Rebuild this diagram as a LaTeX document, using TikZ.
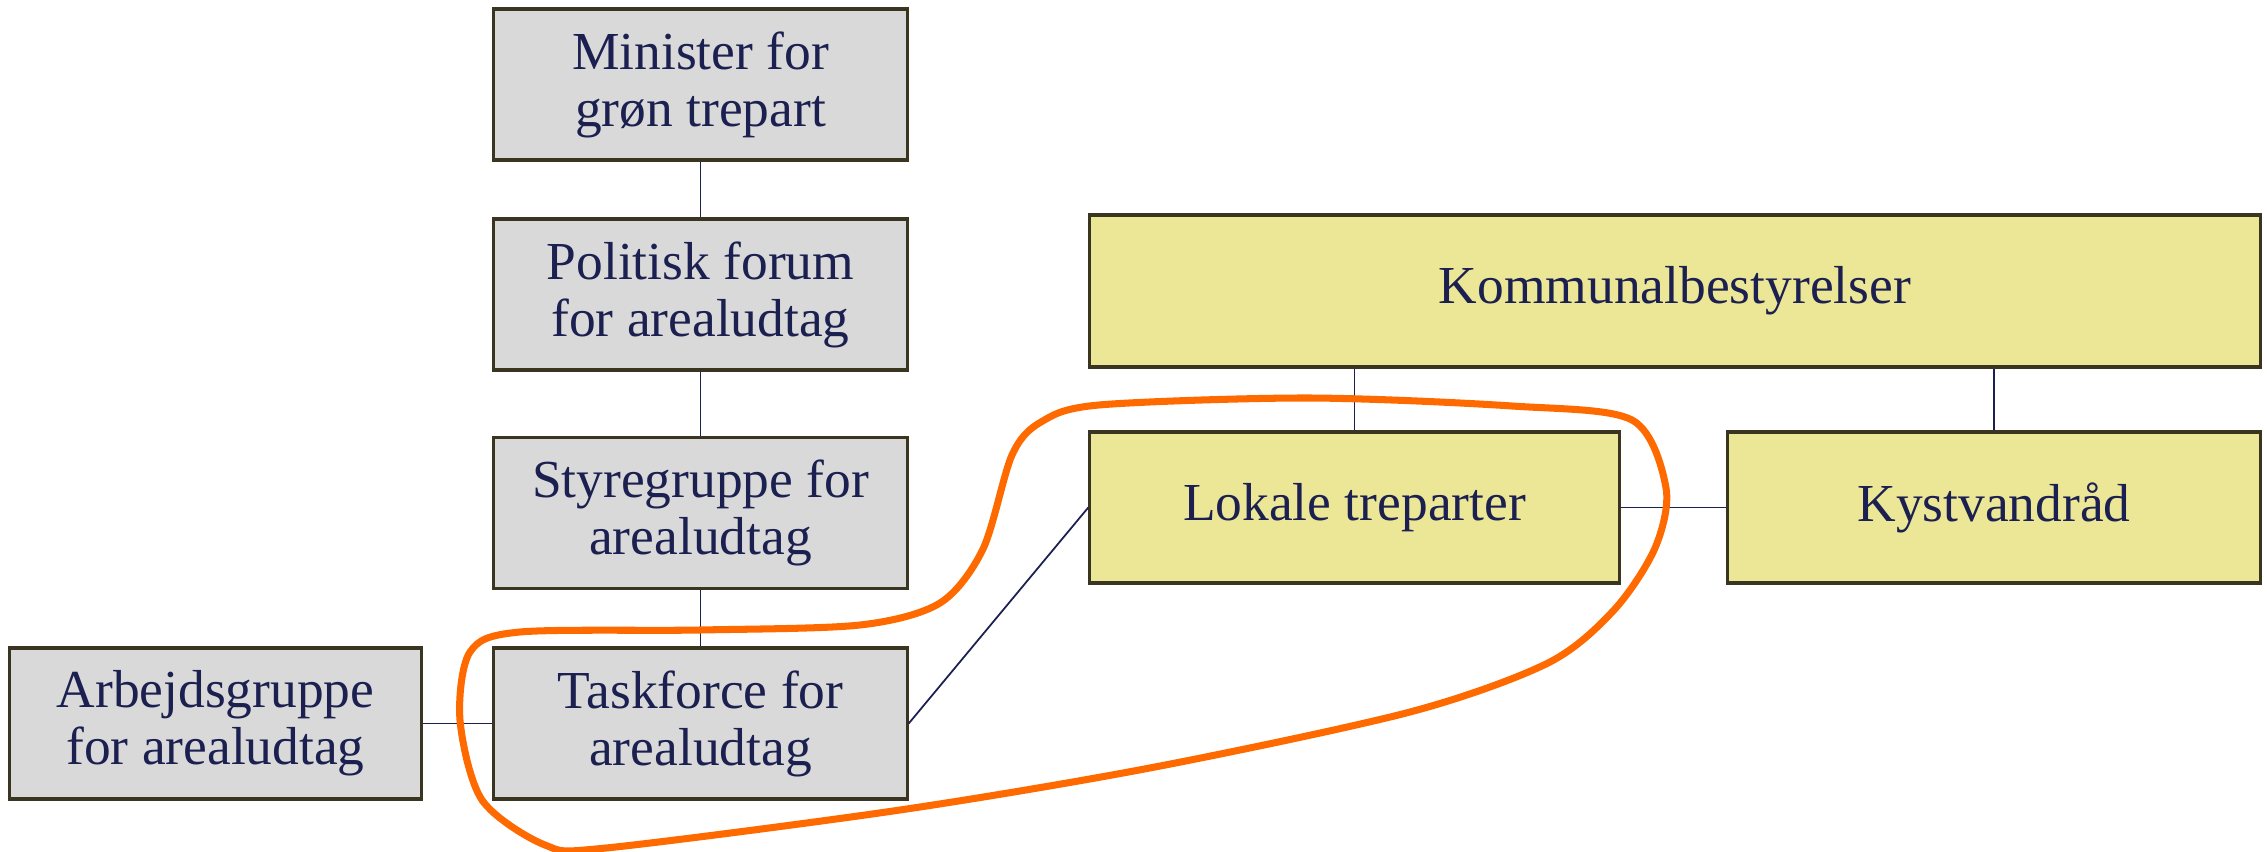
\documentclass[tikz,border=0pt]{standalone}
\usepackage[rgb]{xcolor}
\usepackage{fontspec}
\setmainfont{Liberation Serif}
\usepackage{tikz}

\definecolor{boxgrey}{HTML}{D9D9D9}
\definecolor{boxyellow}{HTML}{ECE697}
\definecolor{boxedge}{HTML}{3A3520}
\definecolor{navytext}{HTML}{1B2050}
\definecolor{loopcolor}{HTML}{FF6A00}

\tikzset{
  orgbox/.style = {draw = boxedge, line width = 0.9pt, rectangle,
    minimum height = 1.51cm, align = center, text = navytext,
    font = \fontsize{15.2}{16.2}\selectfont, inner sep = 0pt},
  statebox/.style = {orgbox, fill = boxgrey, minimum width = 4.13cm},
  localbox/.style = {orgbox, fill = boxyellow},
  link/.style = {draw = navytext, line width = 0.5pt}
}

\begin{document}
\begin{tikzpicture}[x=0.01cm, y=-0.01cm]

\useasboundingbox (0,0) rectangle (2267,852);

% state side, grey boxes
\path
(700.5,84.5) node [statebox] (minister) {Minister for\\gr\o n trepart}
(700.5,294.5) node [statebox] (forum) {Politisk forum\\for arealudtag}
(700.5,513) node [statebox] (styre) {Styregruppe for\\arealudtag}
(700.5,723.5) node [statebox] (taskforce) {Taskforce for\\arealudtag}
(215.5,723.5) node [statebox, minimum width = 4.11cm] (arbejd) {Arbejdsgruppe\\for arealudtag};

% local side, yellow boxes
\path
(1675,291) node [localbox, minimum width = 11.7cm, minimum height = 1.52cm] (kommune) {Kommunalbestyrelser}
(1354.5,507.5) node [localbox, minimum width = 5.29cm] (lokale) {Lokale treparter}
(1994,507.5) node [localbox, minimum width = 5.32cm] (kyst) {Kystvandr\aa d};

% connectors
\draw [link] (minister.south) -- (forum.north);
\draw [link] (forum.south) -- (styre.north);
\draw [link] (styre.south) -- (taskforce.north);
\draw [link] (arbejd.east) -- (taskforce.west);
\draw [link] (taskforce.east) -- (lokale.west);
\draw [link] (lokale.east) -- (kyst.west);
\draw [link] (lokale.north) -- (lokale.north |- kommune.south);
\draw [link] (kyst.north) -- (kyst.north |- kommune.south);

% orange loop round taskforce and lokale treparter
\draw [loopcolor, line width = 2pt]
 plot [smooth cycle, tension = 0.5] coordinates {
 (1308,398) (1512,406) (1632,420) (1666,488) (1655,548) (1614,610)
 (1548,663) (1410,712) (1155,767) (900,810) (606,848) (545,845)
 (482,800) (460,720) (470,652) (520,632) (700,630) (860,625)
 (940,603) (983,549) (1012,455) (1041,422) (1099,405) };

\end{tikzpicture}
\end{document}
